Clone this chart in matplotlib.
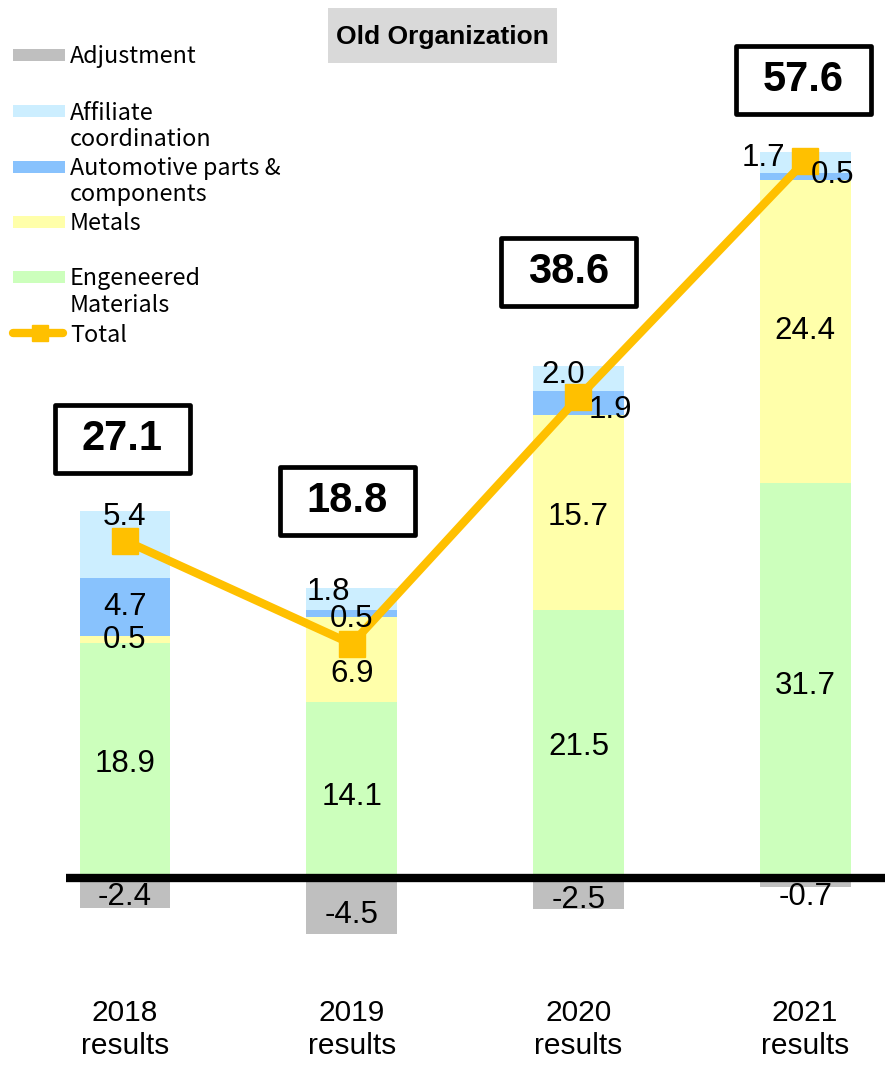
import matplotlib
matplotlib.use("Agg")
import matplotlib.pyplot as plt
from matplotlib.patches import Rectangle
from matplotlib.lines import Line2D

# ---- data -------------------------------------------------------------
categories = ["2018\nresults", "2019\nresults", "2020\nresults", "2021\nresults"]
engineered = [18.9, 14.1, 21.5, 31.7]
metals = [0.5, 6.9, 15.7, 24.4]
automotive = [4.7, 0.5, 1.9, 0.5]
affiliate = [5.4, 1.8, 2.0, 1.7]
adjustment = [-2.4, -4.5, -2.5, -0.7]
total = [27.1, 18.8, 38.6, 57.6]

legend_labels = ["Adjustment", "Affiliate\ncoordination", "Automotive parts &\ncomponents",
                 "Metals", "Engeneered\nMaterials", "Total"]
title_text = "Old Organization"

# ---- style ------------------------------------------------------------
C_ADJ = "#bfbfbf"
C_AFF = "#cceeff"
C_AUTO = "#88c2fd"
C_MET = "#ffffaa"
C_ENG = "#ccffbc"
C_TOT = "#ffc000"

W, H, DPI = 885, 1066, 100
fig = plt.figure(figsize=(W / DPI, H / DPI), dpi=DPI)
ax = fig.add_axes([0, 0, 1, 1])
ax.set_xlim(-0.551, 3.352)
ax.set_ylim(-15.10, 70.52)
ax.axis("off")

x = list(range(len(categories)))
bw = 0.40

# stacked bars (engineered, metals, automotive, affiliate)
bottoms = [0.0] * len(x)
series = [(engineered, C_ENG), (metals, C_MET), (automotive, C_AUTO), (affiliate, C_AFF)]
bar_groups = []
for vals, col in series:
    bars = ax.bar(x, vals, bw, bottom=bottoms, color=col, zorder=2, linewidth=0)
    bar_groups.append((bars, vals, bottoms[:]))
    bottoms = [b + v for b, v in zip(bottoms, vals)]
adj_bars = ax.bar(x, adjustment, bw, color=C_ADJ, zorder=2, linewidth=0)

# thick zero line
ax.plot([-0.26, 3.352], [0, 0], color="black", lw=6, zorder=3, solid_capstyle="butt")

# total line
ax.plot(x, total, color=C_TOT, lw=6, marker="s", ms=19, zorder=4,
        solid_joinstyle="miter")

# per-label nudges in pixels, keyed by (series index, bar index)
nudges = {
    (3, 0): (0, 27), (3, 1): (-23, 7), (3, 2): (-15, 4), (3, 3): (-42, 5),
    (2, 1): (0, -6), (2, 2): (32, -7), (2, 3): (27, 1),
    (1, 1): (0, -15), (1, 2): (0, -4),
    (0, 0): (0, -4), (0, 1): (0, -7), (0, 2): (0, -3), (0, 3): (0, -5),
}
label_font = dict(family="Liberation Sans", fontsize=22.5, color="black")
for si, (bars, vals, base) in enumerate(bar_groups):
    for i, (v, b0) in enumerate(zip(vals, base)):
        dx, dy = nudges.get((si, i), (0, 0))
        ax.annotate(f"{v:.1f}", (x[i], b0 + v / 2), xytext=(dx, dy),
                    textcoords="offset pixels", ha="center", va="center",
                    zorder=6, **label_font)

adj_nudge = [(0, -4), (0, -9), (0, -6), (0, -15)]
for i, v in enumerate(adjustment):
    dx, dy = adj_nudge[i]
    ax.annotate(f"{v:.1f}", (x[i], v / 2), xytext=(dx, dy), textcoords="offset pixels",
                ha="center", va="center", zorder=6, **label_font)

# total call-out boxes
box_y = [35.26, 30.28, 48.67, 64.10]
box_dx = [-0.011, -0.02, -0.044, -0.007]
fig.canvas.draw()
p0 = ax.transData.transform((0, 0))
p1 = ax.transData.transform((1, 1))
px_x = p1[0] - p0[0]
px_y = p1[1] - p0[1]
bw_box, bh_box = 135 / px_x, 68 / px_y
for i, t in enumerate(total):
    cx, cy = x[i] + box_dx[i], box_y[i]
    ax.add_patch(Rectangle((cx - bw_box / 2, cy - bh_box / 2), bw_box, bh_box,
                           facecolor="white", edgecolor="black", lw=3.4,
                           joinstyle="round", zorder=5))
    ax.text(cx, cy, f"{t:.1f}", ha="center", va="center", family="Liberation Sans",
            fontsize=30, fontweight="bold", zorder=6)

# category labels
for i, c in enumerate(categories):
    ax.text(x[i], -12.2, c, ha="center", va="center", family="Liberation Sans",
            fontsize=21.5, linespacing=1.22)

# ---- figure-level helpers (pixel coordinates from top-left) ----------
def fx(px):
    return px / W


def fy(py):
    return 1 - py / H


# title box
fig.patches.append(Rectangle((fx(328), fy(63)), (557 - 328) / W, 55 / H,
                             transform=fig.transFigure, facecolor="#d9d9d9",
                             edgecolor="none", zorder=1))
fig.text(fx(442.5), fy(37), title_text, ha="center", va="center",
         family="Liberation Sans", fontweight="bold", fontsize=19)

# legend
leg_y = [55, 111, 167, 222, 277, 333]
leg_cols = [C_ADJ, C_AFF, C_AUTO, C_MET, C_ENG, None]
leg_font = dict(family=["Noto Sans CJK JP", "DejaVu Sans"], fontsize=16.8)
for yy, col, lab in zip(leg_y, leg_cols, legend_labels):
    if col is not None:
        fig.patches.append(Rectangle((fx(13), fy(yy + 6)), 52 / W, 12 / H,
                                     transform=fig.transFigure, facecolor=col,
                                     edgecolor="none"))
    else:
        fig.lines.append(Line2D([fx(13), fx(63)], [fy(yy), fy(yy)],
                                transform=fig.transFigure, color=C_TOT, lw=6,
                                solid_capstyle="round"))
        fig.lines.append(Line2D([fx(40)], [fy(yy)], transform=fig.transFigure,
                                marker="s", ms=11.5, color=C_TOT, lw=0))
    for k, line in enumerate(lab.split("\n")):
        fig.text(fx(70), fy(yy + 8.5 + 26 * k), line, ha="left", va="baseline",
                 **leg_font)

fig.savefig("out.png", dpi=DPI)
